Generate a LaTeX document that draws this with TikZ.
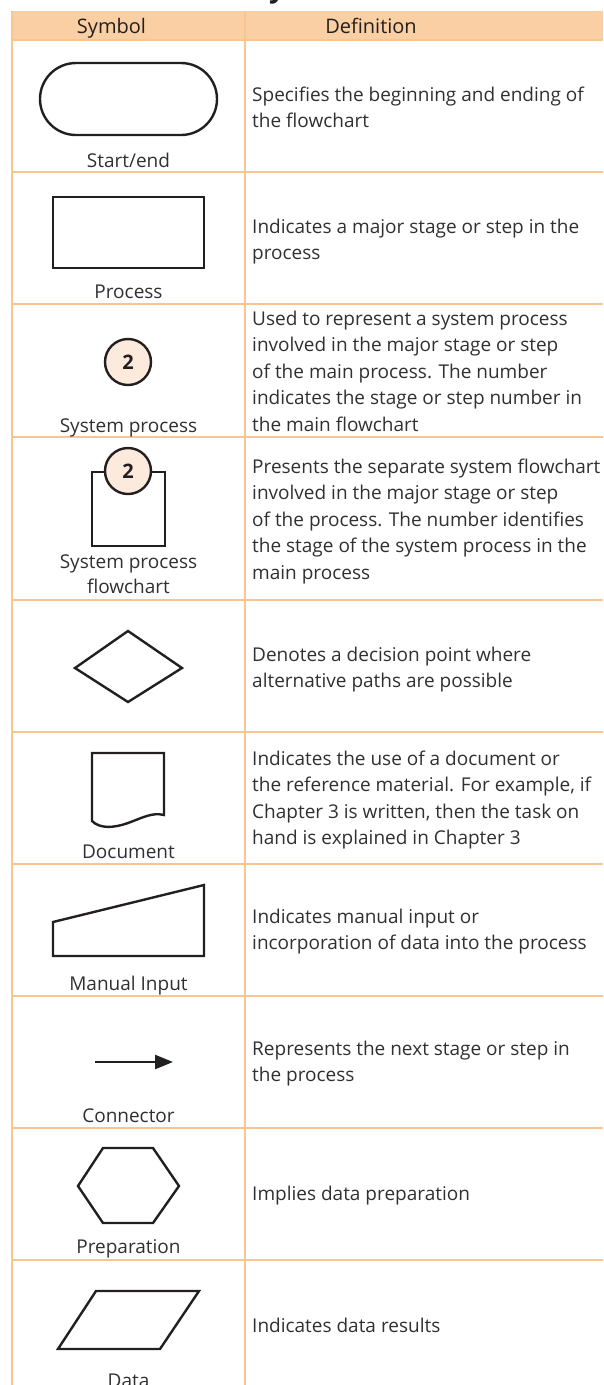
\documentclass[tikz,border=0pt]{standalone}
\usepackage{fontspec}
\setmainfont{Open Sans}
\usetikzlibrary{arrows.meta}
\definecolor{gridc}{HTML}{F8C590}
\definecolor{headc}{HTML}{F9CFA3}
\definecolor{inkc}{HTML}{231F20}
\definecolor{txtc}{HTML}{303030}
\definecolor{discc}{HTML}{FCEBDC}
% one definition cell: first baseline #2, lines listed in #3
\newcommand\deflines[3]{%
  \foreach \t [count=\i] in {#3}
    \node[deftext] (#1-\i) at (252,{#2+(\i-1)*26.5}) {\t};}
\begin{document}
\begin{tikzpicture}[x=1pt,y=-1pt,
  grid/.style={draw=gridc,line width=2pt},
  sym/.style={draw=inkc,line width=2.4pt,line join=miter},
  lbl/.style={text=txtc,font=\fontsize{19}{24}\selectfont,inner sep=0pt,anchor=base},
  deftext/.style={text=txtc,font=\fontsize{19}{24}\selectfont,inner sep=0pt,anchor=base west},
  hdr/.style={text=inkc,font=\fontsize{20}{24}\selectfont,inner sep=0pt,anchor=base},
  disc/.style={circle,draw=inkc,line width=2.4pt,fill=discc,minimum size=46pt,
    inner sep=0pt,font=\bfseries\fontsize{20}{24}\selectfont,text=inkc}]
\useasboundingbox (0,0) rectangle (603,1385);

% title, mostly above the page edge
\node[hdr,font=\bfseries\fontsize{28}{30}\selectfont] (title) at (277,-3) {y};

% header band
\fill[headc] (11,11) rectangle (603,40);
\node[hdr] (hsym) at (111.5,33) {Symbol};
\node[hdr] (hdef) at (371,33) {Definition};

% grid
\foreach \y in {40,172,304,437,600,732,864,996,1128,1260}
  \draw[grid] (11,\y) -- (603,\y);
\draw[grid] (12,11) -- (12,1385);
\draw[grid] (245,11) -- (245,1385);

% start/end
\draw[sym,rounded corners=36pt] (40,63) rectangle (217,135);
\node[lbl] (l1) at (128.5,167) {Start/end};
\deflines{d1}{101}{Specifies the beginning and ending of, the flowchart}

% process
\draw[sym] (53,197) rectangle (204,268);
\node[lbl] (l2) at (128.5,298) {Process};
\deflines{d2}{233}{Indicates a major stage or step in the, process}

% system process
\node[disc] (sp) at (128,362) {2};
\node[lbl] (l3) at (128.5,432) {System process};
\deflines{d3}{325}{Used to represent a system process,
  involved in the major stage or step,
  of the main process. The number,
  indicates the stage or step number in,
  the main flowchart}

% system process flowchart
\draw[sym] (92,472) rectangle (165,546);
\node[disc] (spf) at (128,471) {2};
\node[lbl] (l4a) at (128.5,568) {System process};
\node[lbl] (l4b) at (128.5,593) {flowchart};
\deflines{d4}{473}{Presents the separate system flowchart,
  involved in the major stage or step,
  of the process. The number identifies,
  the stage of the system process in the,
  main process}

% decision
\draw[sym] (75,668) -- (128,631) -- (182,668) -- (128,702) -- cycle;
\deflines{d5}{661}{Denotes a decision point where, alternative paths are possible}

% document
\draw[sym] (92,821) -- (92,753) -- (164,753) -- (164,815)
  .. controls (152,812) and (142,818) .. (128,823)
  .. controls (114,828) and (100,829) .. (92,821) -- cycle;
\node[lbl] (l6) at (128.5,858) {Document};
\deflines{d6}{765}{Indicates the use of a document or,
  {the reference material. For example, if},
  {Chapter 3 is written, then the task on},
  hand is explained in Chapter 3}

% manual input
\draw[sym] (53,922) -- (204,885) -- (204,956) -- (53,956) -- cycle;
\node[lbl] (l7) at (128.5,990) {Manual Input};
\deflines{d7}{923}{Indicates manual input or, incorporation of data into the process}

% connector
\coordinate (ca) at (95,1062);
\coordinate (cb) at (173,1062);
\draw[draw=inkc,line width=2.4pt,-{Triangle[length=18pt,width=14pt]}] (ca) -- (cb);
\node[lbl] (l8) at (128.5,1122) {Connector};
\deflines{d8}{1055}{Represents the next stage or step in, the process}

% preparation
\draw[sym] (78,1186) -- (103,1148) -- (153,1148) -- (179,1186) -- (153,1223) -- (103,1223) -- cycle;
\node[lbl] (l9) at (128.5,1253) {Preparation};
\deflines{d9}{1200}{Implies data preparation}

% data
\draw[sym] (96,1291) -- (199,1291) -- (160,1349) -- (58,1349) -- cycle;
\node[lbl] (l10) at (128.5,1387) {Data};
\deflines{d10}{1332}{Indicates data results}
\end{tikzpicture}
\end{document}
